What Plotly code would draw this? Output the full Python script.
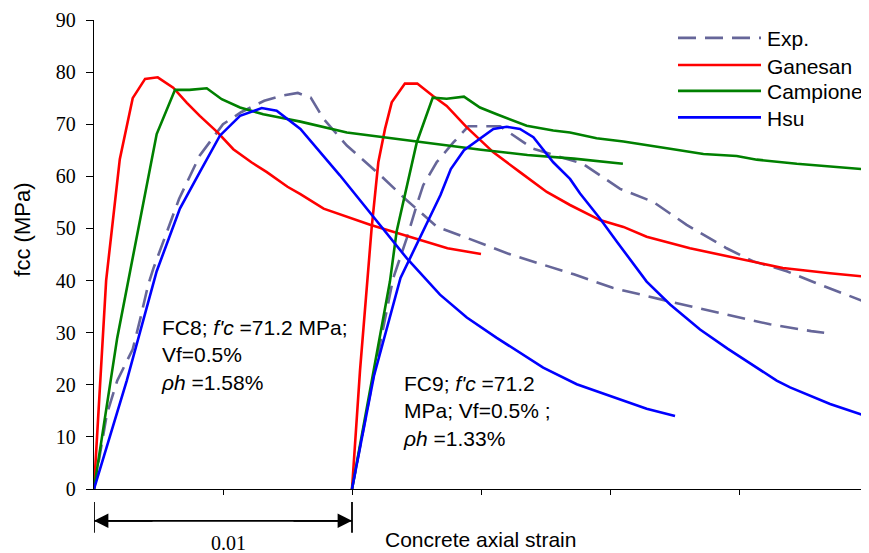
import plotly.graph_objects as go

# ---------------- data (strain as plotted, stress in MPa) ----------------
fc8_exp_x = [0, 0.0005, 0.0009, 0.0015, 0.0018, 0.0021, 0.0023, 0.0033, 0.0041, 0.0050, 0.0057,
             0.0066, 0.0073, 0.0079, 0.0084, 0.0089, 0.0098, 0.0111, 0.0121, 0.0133, 0.0145,
             0.0162, 0.0186, 0.0201, 0.0223, 0.0243, 0.0262, 0.0278, 0.0283]
fc8_exp_y = [0, 14.4, 20.8, 26.8, 32.8, 39.2, 42.3, 55.7, 64.0, 70.0, 72.3,
             74.5, 75.5, 76.0, 75.1, 71.0, 65.9, 60.2, 55.5, 50.3, 48.1,
             44.9, 41.2, 38.6, 36.0, 33.8, 31.6, 30.3, 30.0]

fc8_gan_x = [0, 0.00047, 0.0010, 0.0015, 0.00198, 0.00247, 0.00307, 0.0036, 0.0041, 0.0048,
             0.0054, 0.0061, 0.0067, 0.0075, 0.0080, 0.0089, 0.0107, 0.0124, 0.0137, 0.0150]
fc8_gan_y = [0, 40.0, 63.3, 75.0, 78.7, 79.0, 77.0, 74.1, 71.6, 68.4,
             65.2, 62.7, 60.8, 58.0, 56.6, 53.8, 50.7, 48.1, 46.2, 45.1]

fc8_cam_x = [0, 0.0009, 0.0014, 0.00243, 0.00314, 0.0037, 0.00437, 0.00495, 0.00566, 0.00656,
             0.0072, 0.0080, 0.0098, 0.0124, 0.0137, 0.0150, 0.0168, 0.0186, 0.0205]
fc8_cam_y = [0, 29.0, 41.8, 68.1, 76.6, 76.6, 76.9, 74.8, 73.2, 71.9,
             71.3, 70.5, 68.4, 66.7, 65.9, 65.1, 64.1, 63.4, 62.4]

fc8_hsu_x = [0, 0.00127, 0.00243, 0.00333, 0.0041, 0.00488, 0.00566, 0.0065, 0.00708, 0.0080,
             0.00953, 0.01096, 0.01212, 0.01341, 0.01445, 0.01561, 0.01741, 0.01871, 0.0200,
             0.02142, 0.02252]
fc8_hsu_y = [0, 20.8, 41.8, 53.8, 60.8, 67.8, 71.6, 73.1, 72.6, 69.1,
             60.2, 51.3, 44.3, 37.3, 32.9, 29.0, 23.3, 20.1, 17.9,
             15.4, 14.0]

fc9_exp_x = [0.0100, 0.01083, 0.0116, 0.01212, 0.01251, 0.01276, 0.01328, 0.01393, 0.01451,
             0.01574, 0.01702, 0.01895, 0.02039, 0.02167, 0.02297, 0.02452, 0.02554, 0.02685,
             0.02814, 0.0300]
fc9_exp_y = [0, 21.5, 40.5, 48.1, 54.5, 58.3, 62.7, 66.5, 69.6,
             69.6, 65.3, 62.4, 57.6, 55.1, 50.7, 46.2, 43.7, 41.8,
             39.2, 35.7]

fc9_gan_x = [0.0100, 0.01031, 0.01076, 0.01102, 0.01128, 0.01154, 0.01205, 0.01253, 0.01314,
             0.01367, 0.01445, 0.01548, 0.01651, 0.01755, 0.01845, 0.01961, 0.02052, 0.02142,
             0.0231, 0.02543, 0.0267, 0.02853, 0.0300]
fc9_gan_y = [0, 22.7, 50.0, 62.7, 69.1, 74.2, 77.8, 77.8, 75.4,
             73.5, 69.4, 64.6, 60.8, 57.0, 54.5, 51.6, 50.3, 48.4,
             46.2, 43.7, 42.4, 41.4, 40.7]

fc9_cam_x = [0.0100, 0.01147, 0.01173, 0.01251, 0.01313, 0.01367, 0.01434, 0.01496, 0.01561,
             0.01677, 0.0178, 0.01845, 0.01948, 0.02052, 0.02233, 0.02362, 0.02491, 0.02569,
             0.02724, 0.02853, 0.0300]
fc9_cam_y = [0, 39.8, 49.4, 66.5, 75.1, 74.9, 75.3, 73.2, 71.9,
             69.7, 68.8, 68.4, 67.3, 66.7, 65.3, 64.3, 63.9, 63.2,
             62.4, 61.9, 61.3]

fc9_hsu_x = [0.0100, 0.01085, 0.01188, 0.01279, 0.01343, 0.01383, 0.01434, 0.01548, 0.0160,
             0.01651, 0.01703, 0.0178, 0.01845, 0.01884, 0.01961, 0.02026, 0.02103, 0.02142,
             0.02233, 0.02349, 0.02457, 0.02646, 0.02698, 0.02853, 0.0300]
fc9_hsu_y = [0, 21.7, 40.5, 50.0, 56.4, 61.4, 65.0, 69.1, 69.5,
             69.1, 67.5, 62.7, 59.5, 56.7, 51.9, 47.5, 42.4, 39.8,
             35.4, 30.6, 26.9, 20.8, 19.5, 16.3, 13.9]

series_names = ["Exp.", "Ganesan", "Campione", "Hsu"]
y_ticks = [0, 10, 20, 30, 40, 50, 60, 70, 80, 90]
x_ticks = [0.005, 0.010, 0.015, 0.020, 0.025]

# ---------------- styles ----------------
COL = {"Exp.": "#666699", "Ganesan": "#FF0000", "Campione": "#008000", "Hsu": "#0000FF"}
DASH = {"Exp.": "18px,9px", "Ganesan": "solid", "Campione": "solid", "Hsu": "solid"}
LW = 2.6

fig = go.Figure()
groups = [
    ("Exp.", fc8_exp_x, fc8_exp_y), ("Exp.", fc9_exp_x, fc9_exp_y),
    ("Ganesan", fc8_gan_x, fc8_gan_y), ("Ganesan", fc9_gan_x, fc9_gan_y),
    ("Campione", fc8_cam_x, fc8_cam_y), ("Campione", fc9_cam_x, fc9_cam_y),
    ("Hsu", fc8_hsu_x, fc8_hsu_y), ("Hsu", fc9_hsu_x, fc9_hsu_y),
]
for name, xs, ys in groups:
    fig.add_trace(go.Scatter(x=xs, y=ys, mode="lines", name=name, showlegend=False,
                             line=dict(color=COL[name], width=LW, dash=DASH[name])))

# the page body has an 8px default margin -> compensate
OFF = 8
WIN_W, WIN_H = 869, 553
W, H = WIN_W - OFF, WIN_H - OFF
PL, PR, PT, PB = 94, 868, 17, 489          # target plot box in window pixels
ML, MT = PL - OFF, PT - OFF
MR = W - (PR - OFF)
MB = H - (PB - OFF)
PW, PH = PR - PL, PB - PT


def px_x(px):
    return (px - PL) / PW


def px_y(py):
    return (PB - py) / PH


shapes = []
annotations = []

# manual legend (long line samples)
leg_rows = [35, 62.3, 88.3, 115]
for name, row in zip(series_names, leg_rows):
    shapes.append(dict(type="line", xref="paper", yref="paper",
                       x0=px_x(678), x1=px_x(761), y0=px_y(row), y1=px_y(row),
                       line=dict(color=COL[name], width=LW, dash=DASH[name])))
    annotations.append(dict(text=name, xref="paper", yref="paper", x=px_x(765), y=px_y(row + 1),
                            xanchor="left", yanchor="middle", showarrow=False,
                            font=dict(family="Liberation Sans", size=21, color="black")))

# specimen annotations
annotations.append(dict(text="FC8; <i>f'c</i> =71.2 MPa;<br>Vf=0.5%<br><i>ρh</i> =1.58%",
                        xref="paper", yref="paper", x=px_x(159), y=px_y(354),
                        xanchor="left", yanchor="middle", align="left", showarrow=False,
                        font=dict(family="Liberation Sans", size=21, color="black")))
annotations.append(dict(text="FC9; <i>f'c</i> =71.2<br>MPa; Vf=0.5% ;<br><i>ρh</i> =1.33%",
                        xref="paper", yref="paper", x=px_x(401), y=px_y(411),
                        xanchor="left", yanchor="middle", align="left", showarrow=False,
                        font=dict(family="Liberation Sans", size=21, color="black")))

# y-axis title
annotations.append(dict(text="fcc (MPa)", xref="paper", yref="paper", x=px_x(23), y=px_y(228),
                        xanchor="center", yanchor="middle", textangle=-90, showarrow=False,
                        font=dict(family="Liberation Sans", size=22, color="black")))

# x-axis title
annotations.append(dict(text="Concrete axial strain", xref="paper", yref="paper",
                        x=px_x(480), y=px_y(540), xanchor="center", yanchor="middle",
                        showarrow=False,
                        font=dict(family="Liberation Sans", size=21, color="black")))

# dimension arrow 0.01
arr_y = px_y(521)
for xv in (0.0, 0.01):
    shapes.append(dict(type="line", xref="x", yref="paper", x0=xv, x1=xv,
                       y0=px_y(502), y1=px_y(533), line=dict(color="black", width=1.8)))
shapes.append(dict(type="line", xref="x", yref="paper", x0=0.0, x1=0.01,
                   y0=arr_y, y1=arr_y, line=dict(color="black", width=1.8)))
annotations.append(dict(text="", xref="x", yref="paper", x=0.0, y=arr_y, ax=60, ay=0,
                        showarrow=True, arrowhead=2, arrowsize=1.6, arrowwidth=1.8,
                        arrowcolor="black"))
annotations.append(dict(text="", xref="x", yref="paper", x=0.01, y=arr_y, ax=-60, ay=0,
                        showarrow=True, arrowhead=2, arrowsize=1.6, arrowwidth=1.8,
                        arrowcolor="black"))
annotations.append(dict(text="0.01", xref="paper", yref="paper", x=px_x(228), y=px_y(543),
                        xanchor="center", yanchor="middle", showarrow=False,
                        font=dict(family="Liberation Serif", size=20, color="black")))

fig.update_layout(
    width=W, height=H,
    margin=dict(l=ML, r=MR, t=MT, b=MB, pad=0),
    paper_bgcolor="white", plot_bgcolor="white",
    showlegend=False,
    shapes=shapes, annotations=annotations,
    xaxis=dict(range=[0, 0.03], showgrid=False, zeroline=False, showline=True,
               linecolor="black", linewidth=1.3, ticks="outside", ticklen=5, tickwidth=1.3,
               tickcolor="black", tickvals=x_ticks, showticklabels=False),
    yaxis=dict(range=[0, 90], showgrid=False, zeroline=False, showline=True,
               linecolor="black", linewidth=1.3, ticks="outside", ticklen=7, tickwidth=1.3,
               tickcolor="black", tickvals=y_ticks, ticklabelstandoff=6,
               ticklabeloverflow="allow",
               tickfont=dict(family="Liberation Serif", size=20, color="black")),
)

fig.write_html("out.html")
